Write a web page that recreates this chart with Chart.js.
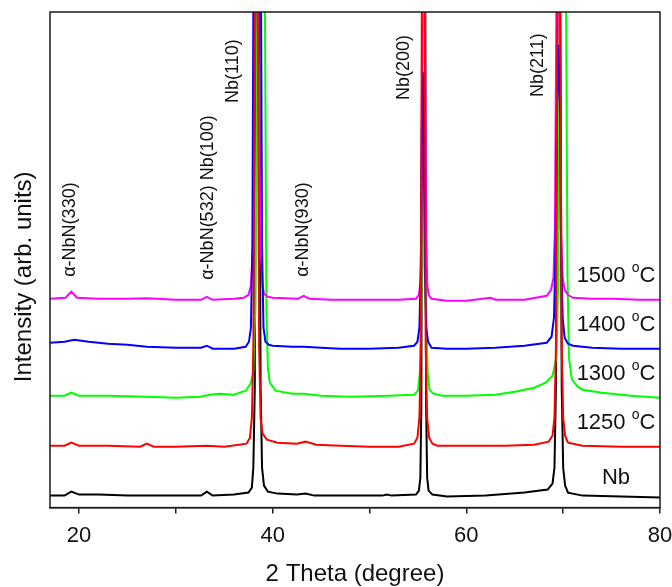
<!DOCTYPE html>
<html>
<head>
<meta charset="utf-8">
<script src="https://cdn.jsdelivr.net/npm/chart.js@4/dist/chart.umd.min.js"></script>
<style>
  html, body { margin: 0; padding: 0; background: #fff; }
  #wrap { width: 672px; height: 587px; position: relative; }
</style>
</head>
<body>
<div id="wrap"><canvas id="xrd"></canvas></div>
<script>
// [2theta, stacked intensity], arb. units
const nbPts = [
  [17,12],[18.5,12],[19.2,16],[20,13],[22,13],[25,12],[28,12],[31,12],[32.6,12],[33.2,16],[33.8,12],
  [36,13],[37.5,15],[37.85,20],[38.0,40],[38.15,120],[38.3,500],[38.45,3000],[38.6,500],[38.75,120],
  [38.9,40],[39.1,22],[39.5,16],[40.5,14],[42.5,13],[43.4,14],[44.3,12],[48,12],[51.3,12],[51.8,13],
  [52.3,12],[54.8,13],[55.1,17],[55.25,30],[55.35,100],[55.45,500],[55.6,3000],[55.75,500],[55.85,100],
  [55.95,30],[56.1,17],[56.5,13],[58,11],[62,12],[66,15],[68.4,18],[68.9,24],[69.1,40],[69.25,120],
  [69.4,500],[69.55,3000],[69.7,500],[69.85,120],[70.0,40],[70.2,22],[70.5,15],[72,12],[76,11],[80,10]
];
const t1250Pts = [
  [17,62],[18.5,62],[19.2,65],[20,62],[23,62],[26.3,61],[27,64],[27.7,61],[30,61],[33.2,62],[35,61],
  [37.3,64],[37.65,70],[37.85,90],[38.0,160],[38.15,500],[38.3,3000],[38.45,500],[38.6,160],[38.75,90],
  [38.95,74],[39.4,68],[40.5,65],[42.5,64],[43.4,66],[44.5,63],[47,62],[50,61],[53,61],[54.6,64],
  [54.95,70],[55.15,90],[55.3,160],[55.4,500],[55.55,3000],[55.7,500],[55.8,160],[55.95,90],[56.15,70],
  [56.5,64],[57,62],[60,62],[64,62],[67,63],[68.5,66],[68.9,72],[69.1,90],[69.25,160],[69.4,500],
  [69.55,3000],[69.7,500],[69.85,160],[70.0,90],[70.2,72],[70.5,65],[72,62],[76,61],[80,61]
];
const t1300Pts = [
  [17,112],[18.5,112],[19.2,115],[20,112],[23,112],[27,111],[30,110],[32.5,111],[33.5,113],[34.5,114],
  [36,113],[37.2,117],[37.7,124],[38.0,135],[38.2,200],[38.4,500],[38.8,3000],[39.2,500],[39.35,200],
  [39.5,140],[39.7,125],[40.3,117],[42,114],[43.2,114],[45,112],[48,111],[52,112],[54.6,113],[55.0,117],
  [55.2,135],[55.35,200],[55.45,500],[55.6,3000],[55.75,500],[55.85,200],[56.0,135],[56.2,118],[56.6,114],
  [57.5,112],[60,112],[63,113],[65,116],[67,120],[68.2,125],[68.9,132],[69.3,150],[69.5,230],[69.65,500],
  [70.0,3000],[70.3,500],[70.45,230],[70.6,150],[70.9,128],[71.5,121],[72,118],[74,115],[77,112],[80,110]
];
const t1400Pts = [
  [17,165],[18.5,166],[19.5,168],[21,166],[23,164],[25,163],[27,161],[30,160],[32.6,160],[33.2,162],
  [33.8,159],[36,159],[37.2,161],[37.55,166],[37.75,180],[37.9,260],[38.0,500],[38.1,1500],[38.4,5000],
  [38.7,1500],[38.8,500],[38.9,260],[39.05,180],[39.25,166],[39.6,163],[40,162],[42,161],[43.2,161],
  [45,160],[47,159],[50,159],[53,160],[54.6,162],[54.95,166],[55.15,180],[55.3,240],[55.4,380],[55.5,436],
  [55.6,380],[55.7,240],[55.85,180],[56.05,166],[56.4,160],[58,159],[60,159],[63,160],[66,162],[68.3,165],
  [68.8,171],[69.05,190],[69.2,250],[69.35,400],[69.5,463],[69.65,400],[69.8,250],[69.95,190],[70.15,170],
  [70.5,164],[71,162],[73,160],[76,159],[80,159]
];
const t1500Pts = [
  [17,209],[18.6,210],[19.2,216],[19.8,210],[22,209],[25,209],[27,209.5],[30,208],[32.6,208],[33.2,211],
  [33.8,208],[36,209],[37.0,210],[37.5,213],[37.75,222],[37.95,260],[38.2,500],[38.35,3000],[38.5,500],
  [38.75,260],[38.95,222],[39.1,214],[39.5,211],[40,210],[42.6,209],[43.2,212],[43.8,209],[46,208],
  [50,208],[53,208],[54.8,209],[55.1,213],[55.25,225],[55.35,280],[55.45,500],[55.6,3000],[55.75,500],
  [55.85,280],[55.95,225],[56.1,213],[56.4,209],[58,207],[60,207],[62.5,210],[63,208],[66,208],[68.3,212],
  [68.75,218],[69.0,230],[69.15,280],[69.3,500],[69.45,3000],[69.6,500],[69.75,280],[69.95,230],
  [70.15,218],[70.5,213],[71,210],[73,209],[75,209],[78,208],[80,208]
];

const seriesNames = ['Nb', '1250', '1300', '1400', '1500'];
const seriesColors = ['#000000', '#ff0000', '#00ff00', '#0000ff', '#ff00ff'];
const drawOrder = [5, 1, 4, 2, 3];   // lower = drawn on top

const peakLabels = ['\u03b1-NbN(330)', '\u03b1-NbN(532) Nb(100)', 'Nb(110)', '\u03b1-NbN(930)', 'Nb(200)', 'Nb(211)'];
const peakLabelTheta = [19.07, 33.32, 35.9, 43.13, 53.56, 67.4];
const peakLabelLevel = [231, 228, 405, 231, 408, 411];

const xTicks = [20, 40, 60, 80];

const FONT = '"Liberation Sans", Arial, Helvetica, sans-serif';
const nameLift = [20, 24, 24, 24, 24];   // px above the trace end

const allPts = [nbPts, t1250Pts, t1300Pts, t1400Pts, t1500Pts];

const labelsPlugin = {
  id: 'labelsPlugin',
  afterDatasetsDraw(chart) {
    const { ctx, chartArea: a, scales: { x, y } } = chart;
    ctx.save();
    // frame
    ctx.strokeStyle = '#1a1a1a';
    ctx.lineWidth = 1.5;
    ctx.strokeRect(a.left, a.top, a.right - a.left, a.bottom - a.top);

    // peak labels
    ctx.fillStyle = '#111';
    ctx.font = '18px ' + FONT;
    ctx.textAlign = 'left';
    ctx.textBaseline = 'middle';
    peakLabels.forEach((t, i) => {
      ctx.save();
      ctx.translate(x.getPixelForValue(peakLabelTheta[i]), y.getPixelForValue(peakLabelLevel[i]));
      ctx.rotate(-Math.PI / 2);
      ctx.fillText(t, 0, 0);
      ctx.restore();
    });

    // y title
    ctx.save();
    ctx.font = '24px ' + FONT;
    ctx.textAlign = 'center';
    ctx.translate(a.left - 26, (a.top + a.bottom) / 2 + 17);
    ctx.rotate(-Math.PI / 2);
    ctx.fillText('Intensity (arb. units)', 0, 0);
    ctx.restore();

    // series names, centred above the right end of each trace
    const cx = a.right - 44;
    seriesNames.forEach((name, i) => {
      const pts = allPts[i];
      const cy = y.getPixelForValue(pts[pts.length - 1][1]) - nameLift[i];
      ctx.textBaseline = 'middle';
      ctx.textAlign = 'left';
      ctx.font = '22px ' + FONT;
      if (i === 0) {
        const w = ctx.measureText(name).width;
        ctx.fillText(name, cx - w / 2, cy);
        return;
      }
      const head = name + ' ';
      const w1 = ctx.measureText(head).width;
      const wc = ctx.measureText('C').width;
      ctx.font = '14px ' + FONT;
      const wo = ctx.measureText('o').width;
      const sx = cx - (w1 + wo + wc) / 2;
      ctx.font = '22px ' + FONT;
      ctx.fillText(head, sx, cy);
      ctx.font = '14px ' + FONT;
      ctx.fillText('o', sx + w1, cy - 8);
      ctx.font = '22px ' + FONT;
      ctx.fillText('C', sx + w1 + wo, cy);
    });
    ctx.restore();
  }
};

const datasets = allPts.map((pts, i) => ({
  label: seriesNames[i],
  data: pts.map(p => ({ x: p[0], y: p[1] })),
  borderColor: seriesColors[i],
  backgroundColor: seriesColors[i],
  borderWidth: 2,
  pointRadius: 0,
  tension: 0,
  fill: false,
  order: drawOrder[i]
}));

new Chart(document.getElementById('xrd'), {
  type: 'line',
  data: { datasets },
  options: {
    responsive: true,
    maintainAspectRatio: false,
    animation: false,
    devicePixelRatio: 1,
    layout: { padding: { left: 50, right: 12, top: 12, bottom: 1 } },
    scales: {
      x: {
        type: 'linear',
        min: 17,
        max: 80,
        // let the "80" run to the page edge instead of shrinking the plot
        afterFit: s => { s.paddingLeft = 0; s.paddingRight = 0; },
        border: { display: true, color: '#1a1a1a', width: 1.5 },
        grid: { drawOnChartArea: false, drawTicks: true, tickLength: 6, color: '#1a1a1a', lineWidth: 1.5 },
        ticks: {
          stepSize: 10,
          includeBounds: false,
          padding: 9,
          color: '#111',
          font: { family: FONT, size: 22 },
          maxRotation: 0,
          callback: v => xTicks.includes(v) ? String(v) : ''
        },
        title: {
          display: true,
          text: '2 Theta (degree)',
          color: '#111',
          font: { family: FONT, size: 24, lineHeight: 1 },
          padding: { top: 4, bottom: 0 }
        }
      },
      y: {
        display: false,
        min: 0,
        max: 496
      }
    },
    plugins: {
      legend: { display: false },
      tooltip: { enabled: false }
    }
  },
  plugins: [labelsPlugin]
});
</script>
</body>
</html>
